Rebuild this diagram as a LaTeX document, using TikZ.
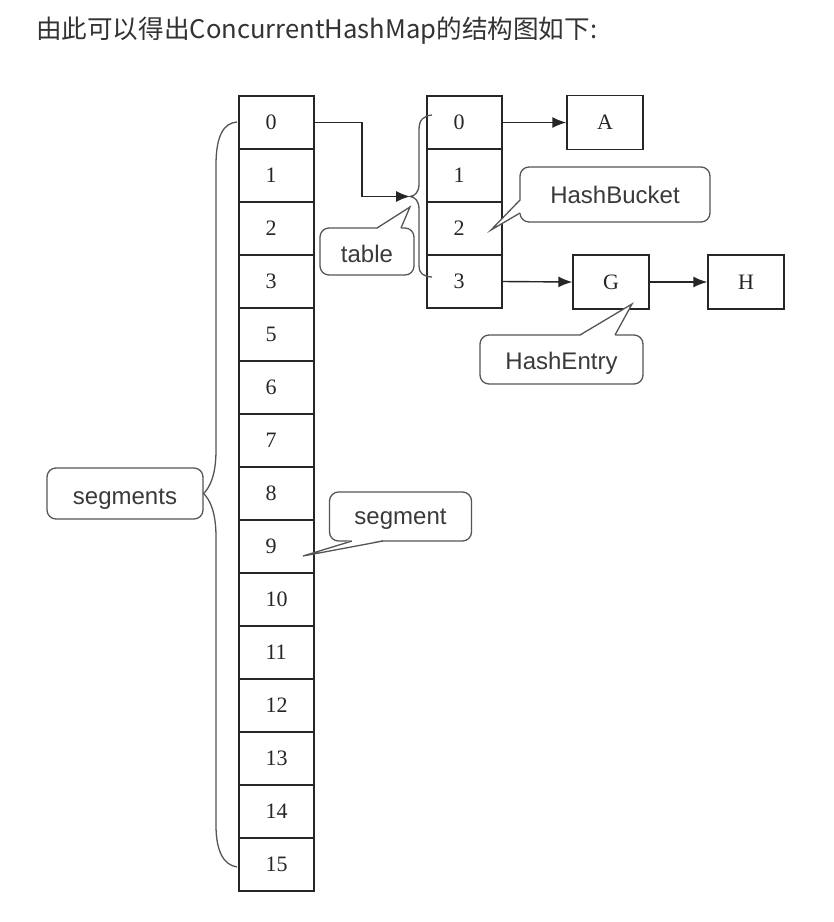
\documentclass[tikz,border=0pt]{standalone}
\usepackage{fontspec}
\setmainfont{Liberation Serif}
\newfontfamily\cjkfont{Noto Sans CJK SC}
\newfontfamily\lblfont{Liberation Sans}
\usetikzlibrary{arrows.meta}
\definecolor{ink}{HTML}{262626}
\definecolor{cgray}{HTML}{555555}
\definecolor{ctext}{HTML}{3A3A3A}
\definecolor{ttl}{HTML}{333333}
\begin{document}
\begin{tikzpicture}[x=1pt,y=-1pt,
 cell/.style={draw=ink, line width=1.4pt, minimum width=75pt, minimum height=53pt, text width=22pt, inner xsep=26.5pt, inner ysep=0pt, align=left, font=\fontsize{22}{22}\selectfont, text=ink},
 ebox/.style={draw=ink, line width=1.4pt, minimum width=76pt, minimum height=54pt, inner sep=0pt, font=\fontsize{22}{22}\selectfont, text=ink},
 cbox/.style={draw=cgray, line width=1.3pt, rounded corners=9pt, inner sep=0pt, text height=17pt, text depth=0pt, font=\lblfont\fontsize{24}{24}\selectfont, text=ctext},
 arr/.style={draw=ink, line width=1.4pt, -{Latex[length=14pt,width=11pt]}},
 brc/.style={draw=cgray, line width=1.3pt},
 tailfill/.style={fill=white, draw=none},
 tail/.style={draw=cgray, line width=1.3pt, line join=miter}
]
\useasboundingbox[fill=white] (0,0) rectangle (834,922);

\node[anchor=west, font=\cjkfont\fontsize{25.6}{25.6}\selectfont, text=ttl, inner sep=0pt] (title) at (36,31) {由此可以得出ConcurrentHashMap的结构图如下:};

% segments column
\foreach \lab [count=\i from 0] in {0,1,2,3,5,6,7,8,9,10,11,12,13,14,15}
  \node[cell] (L\i) at (276.5, 122.5+53*\i) {\lab};
% table column
\foreach \i in {0,...,3}
  \node[cell] (R\i) at (464.5, 122.5+53*\i) {\i};

\node[ebox] (A) at (605,122.5) {A};
\node[ebox] (G) at (611,282) {G};
\node[ebox] (H) at (746,282) {H};

\coordinate (ttip) at (410,196.5);
\coordinate (bend) at (362,196.5);
\draw[arr] (L0.east) -| (bend) -- (ttip);
\draw[arr] (R0.east) -- (A.west);
\draw[arr] (R3.east) -- (G.west);
\draw[arr] (G.east) -- (H.west);

% table brace
\draw[brc] (432,115) .. controls (423,116) and (419,120) .. (419,130) -- (419,184)
  .. controls (419,192) and (415,196) .. (ttip)
  .. controls (415,197) and (419,201) .. (419,209) -- (419,266)
  .. controls (419,273) and (423,276.5) .. (432,277);

% callouts
\node[cbox, minimum width=156pt, minimum height=51pt, text height=22pt] (segs) at (125,493.5) {segments};
\node[cbox, minimum width=94pt, minimum height=47pt, text height=22pt] (tbl) at (367,251.5) {table};
\node[cbox, minimum width=190pt, minimum height=55pt, text height=17.6pt] (hb) at (615,194.5) {HashBucket};
\node[cbox, minimum width=163pt, minimum height=49pt, text height=20pt] (he) at (561.5,359.5) {HashEntry};
\node[cbox, minimum width=142pt, minimum height=49pt, text height=15pt] (seg) at (400.5,516.5) {segment};

% segments brace
\draw[brc] (237,122) .. controls (224,123) and (216,135) .. (216,165) -- (216,450)
  .. controls (216,475) and (210,487) .. (segs.east)
  .. controls (210,500) and (216,512) .. (216,537) -- (216,825)
  .. controls (216,852) and (224,865) .. (237,867);

% tails
\coordinate (tblp) at (410,207);
\fill[tailfill] (377,229) -- (tblp) -- (401,229) -- cycle;
\draw[tail] (377,228) -- (tblp) -- (401,228);

\coordinate (hbp) at (491,230);
\fill[tailfill] (521,200) -- (hbp) -- (521,213) -- cycle;
\draw[tail] (520,200) -- (hbp) -- (520,213);

\coordinate (hep) at (632,304);
\fill[tailfill] (580,336) -- (hep) -- (615,336) -- cycle;
\draw[tail] (580,335) -- (hep) -- (615,335);

\coordinate (segp) at (303,556);
\fill[tailfill] (352,540) -- (segp) -- (383,540) -- cycle;
\draw[tail] (352,541) -- (segp) -- (383,541);
\end{tikzpicture}
\end{document}
